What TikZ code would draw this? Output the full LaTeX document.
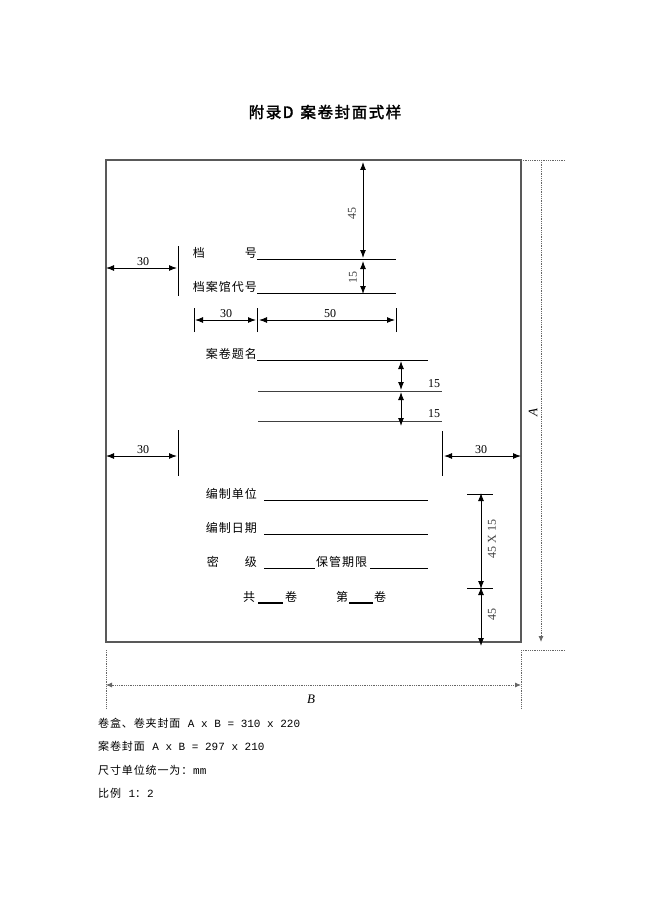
\documentclass[tikz,border=0pt]{standalone}
\usepackage{fontspec}
\setmainfont{Liberation Serif}
\setmonofont{Liberation Mono}
\newfontfamily\cjk[LetterSpace=8]{Noto Sans CJK SC}
\newfontfamily\cjkbold[FakeBold=2,LetterSpace=10]{Noto Sans CJK SC}
\usetikzlibrary{arrows.meta}

\begin{document}
\begin{tikzpicture}[x=1pt, y=-1pt,
    dimline/.style ={line width=1pt, {Latex[length=8pt,width=6pt]}-{Latex[length=8pt,width=6pt]}},
    dimtick/.style ={line width=0.8pt},
    blank/.style ={line width=0.8pt},
    extline/.style ={densely dotted, line width=0.8pt, black!60},
    number/.style ={inner sep=0pt, font=\fontsize{12}{12}\selectfont},
    field/.style ={inner sep=0pt, anchor=east, font=\fontsize{12}{12}\selectfont\cjk},
    note/.style ={inner sep=0pt, anchor=west, font=\fontsize{11}{11}\selectfont}]
   \useasboundingbox (0,0) rectangle (650,920);
   \node[inner sep=0pt, font=\fontsize{15.5}{15.5}\selectfont] (title) at (325,112) {{\cjkbold 附录D}\hspace{7pt}{\cjkbold 案卷封面式样}};

   % cover and outer size
   \coordinate (NW) at (106,160);
   \coordinate (SE) at (521,642);
   \draw[line width=1.2pt, black!65] (NW) rectangle (SE);
   \coordinate (Atop) at (541,160);
   \coordinate (Abot) at (541,642);
   \coordinate (Aext) at (565,160);
   \coordinate (Bcorner) at (521,650);
   \coordinate (Bext) at (565,650);
   \coordinate (Bdown) at (521,708);
   \coordinate (Lcorner) at (106,650);
   \coordinate (Ldown) at (106,708);
   \coordinate (Bleft) at (106,685);
   \coordinate (Bright) at (521,685);
   \draw[extline] (SE |- NW) -- (Aext);
   \draw[extline] (Bcorner) -- (Bext);
   \draw[extline] (Bcorner) -- (Bdown);
   \draw[extline] (Lcorner) -- (Ldown);
   \draw[extline, -{Latex[length=6pt,width=5pt]}] (Atop) -- (Abot);
   \draw[extline, {Latex[length=6pt,width=5pt]}-{Latex[length=6pt,width=5pt]}] (Bleft) -- (Bright);
   \node[number, rotate=90, font=\fontsize{13}{13}\selectfont\itshape] (A) at (533,413) {A};
   \node[number, font=\fontsize{13}{13}\selectfont\itshape] (B) at (311,699) {B};

   % top fields
   \node[field] (dh) at (257,253) {档\hspace{40pt}号};
   \coordinate (dhR) at (396,259);
   \draw[blank] (dh.east |- dhR) -- (dhR);
   \node[field] (dgdh) at (257,287) {档案馆代号};
   \coordinate (dgdhR) at (396,293);
   \draw[blank] (dgdh.east |- dgdhR) -- (dgdhR);
   \coordinate (t45a) at (363,162);
   \coordinate (t45b) at (363,258);
   \coordinate (t15a) at (363,261);
   \coordinate (t15b) at (363,294);
   \draw[dimline] (t45a) -- (t45b);
   \draw[dimline] (t15a) -- (t15b);
   \node[number, rotate=90, black!75] (n45) at (352,213) {45};
   \node[number, rotate=90, black!75] (n15) at (353,277) {15};

   % left margin
   \coordinate (m1a) at (178,246);
   \coordinate (m1b) at (178,296);
   \draw[dimtick] (m1a) -- (m1b);
   \draw[dimline] (NW |- 0,268) -- (177,268);
   \node[number] (l30a) at (143,262) {30};

   % 30 / 50
   \coordinate (w1) at (194,320);
   \coordinate (w2) at (257,320);
   \coordinate (w3) at (396,320);
   \draw[dimtick] ([yshift=-12pt]w1) -- ([yshift=12pt]w1);
   \draw[dimtick] ([yshift=-12pt]w2) -- ([yshift=12pt]w2);
   \draw[dimtick] ([yshift=-12pt]w3) -- ([yshift=12pt]w3);
   \draw[dimline] ([xshift=1pt]w1) -- ([xshift=-1pt]w2);
   \draw[dimline] ([xshift=2pt]w2) -- ([xshift=-1pt]w3);
   \node[number] (w30) at (226,314) {30};
   \node[number] (w50) at (330,314) {50};

   % title lines
   \node[field] (ajtm) at (257,354) {案卷题名};
   \coordinate (tm1) at (428,360);
   \coordinate (tm2L) at (258,391);
   \coordinate (tm2R) at (442,391);
   \coordinate (tm3L) at (258,421);
   \coordinate (tm3R) at (442,421);
   \draw[blank] (ajtm.east |- tm1) -- (tm1);
   \draw[blank, black!75] (tm2L) -- (tm2R);
   \draw[blank, black!75] (tm3L) -- (tm3R);
   \draw[dimline] (401,361) -- (401,390);
   \draw[dimline] (401,392) -- (401,426);
   \node[number] (s15a) at (434,384) {15};
   \node[number] (s15b) at (434,414) {15};

   % side margins
   \coordinate (m2a) at (178,430);
   \coordinate (m2b) at (178,476);
   \coordinate (m3a) at (442,431);
   \coordinate (m3b) at (442,476);
   \draw[dimtick] (m2a) -- (m2b);
   \draw[dimtick] (m3a) -- (m3b);
   \draw[dimline] (NW |- 0,456) -- (177,456);
   \draw[dimline] (444,456) -- (SE |- 0,456);
   \node[number] (l30b) at (143,450) {30};
   \node[number] (r30) at (481,450) {30};

   % lower fields
   \node[field] (bzdw) at (257,494) {编制单位};
   \draw[blank] (264,500) -- (428,500);
   \node[field] (bzrq) at (257,528) {编制日期};
   \draw[blank] (264,534) -- (428,534);
   \node[field] (mj) at (257,562) {密\hspace{26pt}级};
   \draw[blank] (264,568) -- (315,568);
   \node[field, anchor=west] (bgqx) at (316,562) {保管期限};
   \draw[blank] (370,568) -- (428,568);
   \node[field, anchor=center] (gong) at (249,597) {共};
   \draw[line width=1.2pt] (258,603) -- (283,603);
   \node[field, anchor=center] (juan1) at (291,597) {卷};
   \node[field, anchor=center] (di) at (342,597) {第};
   \draw[line width=1.2pt] (349,603) -- (373,603);
   \node[field, anchor=center] (juan2) at (380,597) {卷};

   % bottom right
   \coordinate (b1) at (481,494);
   \coordinate (b2) at (481,588);
   \coordinate (b3) at (481,646);
   \draw[dimtick] ([xshift=-14pt]b1) -- ([xshift=12pt]b1);
   \draw[dimtick] ([xshift=-14pt]b2) -- ([xshift=12pt]b2);
   \draw[dimline] ([yshift=1pt]b1) -- ([yshift=-1pt]b2);
   \draw[dimline] ([yshift=1pt]b2) -- (b3);
   \node[number, rotate=90, black!75] (b4515) at (492,539) {45 X 15};
   \node[number, rotate=90, black!75] (b45) at (492,614) {45};

   % notes
   \node[note] (note1) at (98,723) {{\cjk 卷盒、卷夹封面}\texttt{ A x B = 310 x 220}};
   \node[note] (note2) at (98,746) {{\cjk 案卷封面}\texttt{ A x B = 297 x 210}};
   \node[note] (note3) at (98,770) {{\cjk 尺寸单位统一为：}\texttt{mm}};
   \node[note] (note4) at (98,793) {{\cjk 比例}\texttt{ 1}{\cjk ：}\texttt{2}};
 \end{tikzpicture}
\end{document}
